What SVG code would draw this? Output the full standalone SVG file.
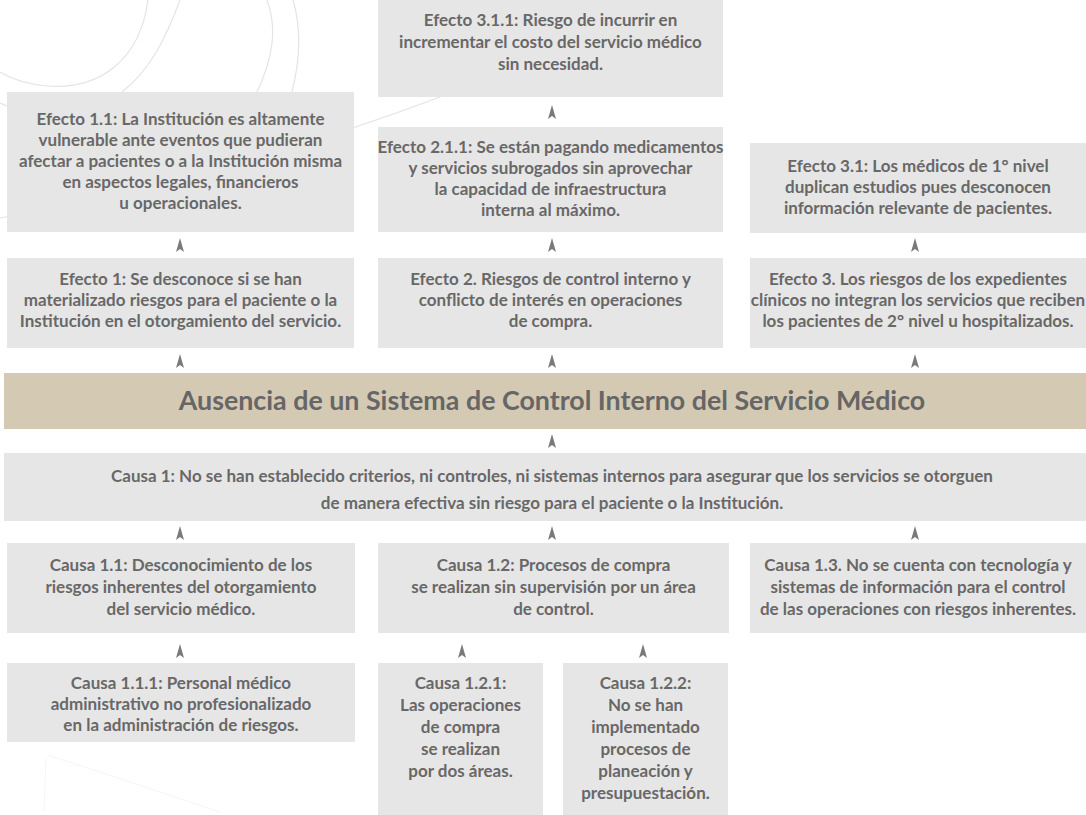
<svg xmlns="http://www.w3.org/2000/svg" xmlns:xlink="http://www.w3.org/1999/xlink" width="1086" height="815" viewBox="0 0 1086 815">
<style>
.bx{fill:#e7e6e6}
.t{font-family:Lato,"Open Sans","Liberation Sans",sans-serif;font-weight:bold;font-size:17px;fill:#686868;text-anchor:middle}
.title{font-family:Lato,"Open Sans","Liberation Sans",sans-serif;font-weight:bold;font-size:26.8px;fill:#666666;text-anchor:middle}
.bg{fill:none;stroke:#e4e4e4;stroke-width:1.2}
.ah{fill:#7a7a7a}
</style>
<defs>
<path id="ah" d="M0,-7 L4,7 L0,4 L-4,7 Z"/>
</defs>
<rect width="1086" height="815" fill="#ffffff"/>
<g id="background">
<path class="bg" d="M148,0 C140,60 100,90 47,86 C25,84 10,78 0,72"/>
<path class="bg" d="M180,0 C165,40 150,70 122,92"/>
<path class="bg" d="M267,0 C278,30 272,60 257,92"/>
<path class="bg" d="M293,0 C302,30 300,60 292,92"/>
<path class="bg" d="M0,218 C150,190 300,150 440,97 C470,70 490,35 497,0"/>
<path class="bg" d="M0,103 L7,106"/>
<path d="M48,755 L220,812 M46,758 L44,812" fill="none" stroke="#f5f5f5" stroke-width="1"/>
</g>
<g id="e311"><rect class="bx" x="378" y="0" width="345" height="97"/>
<text class="t" x="550.5" y="26">Efecto 3.1.1: Riesgo de incurrir en</text>
<text class="t" x="550.5" y="48">incrementar el costo del servicio médico</text>
<text class="t" x="550.5" y="70">sin necesidad.</text></g>
<g id="e211"><rect class="bx" x="378" y="127" width="345" height="105"/>
<text class="t" x="550.5" y="153">Efecto 2.1.1: Se están pagando medicamentos</text>
<text class="t" x="550.5" y="174">y servicios subrogados sin aprovechar</text>
<text class="t" x="550.5" y="195">la capacidad de infraestructura</text>
<text class="t" x="550.5" y="216">interna al máximo.</text></g>
<g id="e11"><rect class="bx" x="7" y="92" width="347" height="140"/>
<text class="t" x="180.5" y="125">Efecto 1.1: La Institución es altamente</text>
<text class="t" x="180.5" y="146">vulnerable ante eventos que pudieran</text>
<text class="t" x="180.5" y="167">afectar a pacientes o a la Institución misma</text>
<text class="t" x="180.5" y="188">en aspectos legales, financieros</text>
<text class="t" x="180.5" y="209">u operacionales.</text></g>
<g id="e31"><rect class="bx" x="750" y="143" width="336" height="90"/>
<text class="t" x="918" y="172">Efecto 3.1: Los médicos de 1° nivel</text>
<text class="t" x="918" y="193">duplican estudios pues desconocen</text>
<text class="t" x="918" y="214">información relevante de pacientes.</text></g>
<g id="e1"><rect class="bx" x="7" y="258" width="347" height="90"/>
<text class="t" x="180.5" y="285">Efecto 1: Se desconoce si se han</text>
<text class="t" x="180.5" y="306">materializado riesgos para el paciente o la</text>
<text class="t" x="180.5" y="327">Institución en el otorgamiento del servicio.</text></g>
<g id="e2"><rect class="bx" x="378" y="258" width="345" height="90"/>
<text class="t" x="550.5" y="285">Efecto 2. Riesgos de control interno y</text>
<text class="t" x="550.5" y="306">conflicto de interés en operaciones</text>
<text class="t" x="550.5" y="327">de compra.</text></g>
<g id="e3"><rect class="bx" x="750" y="258" width="336" height="90"/>
<text class="t" x="918" y="285">Efecto 3. Los riesgos de los expedientes</text>
<text class="t" x="918" y="306">clínicos no integran los servicios que reciben</text>
<text class="t" x="918" y="327">los pacientes de 2° nivel u hospitalizados.</text></g>
<g id="problema"><rect x="4" y="373" width="1082" height="56" fill="#d4cab3"/>
<text class="title" x="552" y="410">Ausencia de un Sistema de Control Interno del Servicio Médico</text></g>
<g id="c1"><rect class="bx" x="4" y="453" width="1082" height="68"/>
<text class="t" x="552" y="482">Causa 1: No se han establecido criterios, ni controles, ni sistemas internos para asegurar que los servicios se otorguen</text>
<text class="t" x="552" y="509">de manera efectiva sin riesgo para el paciente o la Institución.</text></g>
<g id="c11"><rect class="bx" x="7" y="543" width="348" height="90"/>
<text class="t" x="181" y="571">Causa 1.1: Desconocimiento de los</text>
<text class="t" x="181" y="593">riesgos inherentes del otorgamiento</text>
<text class="t" x="181" y="615">del servicio médico.</text></g>
<g id="c12"><rect class="bx" x="378" y="543" width="351" height="90"/>
<text class="t" x="553.5" y="571">Causa 1.2: Procesos de compra</text>
<text class="t" x="553.5" y="593">se realizan sin supervisión por un área</text>
<text class="t" x="553.5" y="615">de control.</text></g>
<g id="c13"><rect class="bx" x="750" y="543" width="336" height="90"/>
<text class="t" x="918" y="571">Causa 1.3. No se cuenta con tecnología y</text>
<text class="t" x="918" y="593">sistemas de información para el control</text>
<text class="t" x="918" y="615">de las operaciones con riesgos inherentes.</text></g>
<g id="c111"><rect class="bx" x="7" y="663" width="348" height="79"/>
<text class="t" x="181" y="689">Causa 1.1.1: Personal médico</text>
<text class="t" x="181" y="710">administrativo no profesionalizado</text>
<text class="t" x="181" y="731">en la administración de riesgos.</text></g>
<g id="c121"><rect class="bx" x="378" y="663" width="165" height="152"/>
<text class="t" x="460.5" y="689">Causa 1.2.1:</text>
<text class="t" x="460.5" y="711">Las operaciones</text>
<text class="t" x="460.5" y="733">de compra</text>
<text class="t" x="460.5" y="755">se realizan</text>
<text class="t" x="460.5" y="777">por dos áreas.</text></g>
<g id="c122"><rect class="bx" x="563" y="663" width="165" height="152"/>
<text class="t" x="645.5" y="689">Causa 1.2.2:</text>
<text class="t" x="645.5" y="711">No se han</text>
<text class="t" x="645.5" y="733">implementado</text>
<text class="t" x="645.5" y="755">procesos de</text>
<text class="t" x="645.5" y="777">planeación y</text>
<text class="t" x="645.5" y="799">presupuestación.</text></g>
<g id="connectors" class="ah">
<use xlink:href="#ah" x="552" y="112"/>
<use xlink:href="#ah" x="180" y="245"/>
<use xlink:href="#ah" x="552" y="245"/>
<use xlink:href="#ah" x="915" y="245"/>
<use xlink:href="#ah" x="180" y="361"/>
<use xlink:href="#ah" x="552" y="361"/>
<use xlink:href="#ah" x="915" y="361"/>
<use xlink:href="#ah" x="552" y="441"/>
<use xlink:href="#ah" x="180" y="533"/>
<use xlink:href="#ah" x="552" y="533"/>
<use xlink:href="#ah" x="915" y="533"/>
<use xlink:href="#ah" x="180" y="651"/>
<use xlink:href="#ah" x="462" y="651"/>
<use xlink:href="#ah" x="643" y="651"/>
</g>
</svg>
